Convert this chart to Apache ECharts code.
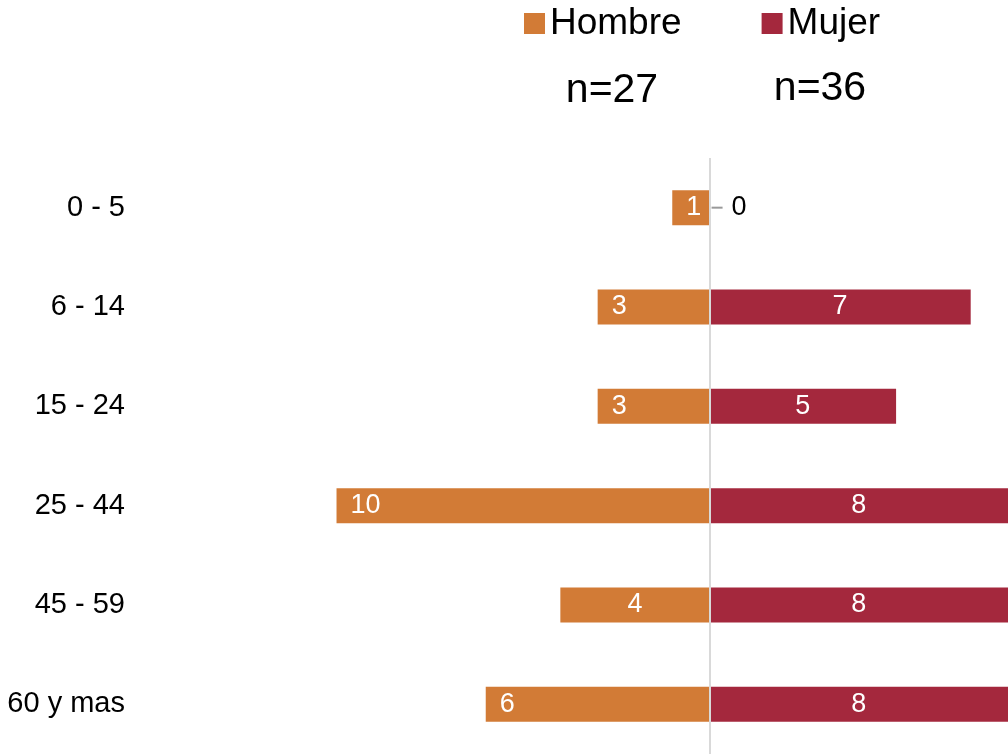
<!DOCTYPE html>
<html><head><meta charset="utf-8">
<script src="https://cdn.jsdelivr.net/npm/echarts@6/dist/echarts.min.js"></script>
<style>html,body{margin:0;padding:0;background:#fff}#c{width:1008px;height:754px}</style>
</head><body><div id="c"></div>
<script>
const categories = ['0 - 5','6 - 14','15 - 24','25 - 44','45 - 59','60 y mas'];
const hombre = [1,3,3,10,4,6];
const mujer = [0,7,5,8,8,8];
const nLabels = ['n=27','n=36'];

const FONT = '"Liberation Sans", Arial, sans-serif';
const orange = '#D27B36', red = '#A4283D';
const chart = echarts.init(document.getElementById('c'));
chart.setOption({
  animation:false,
  textStyle:{fontFamily:FONT},
  legend:{
    data:['Hombre','Mujer'], top:0, left:519, itemWidth:21, itemHeight:21, itemGap:80,
    icon:'rect', textStyle:{fontSize:37, color:'#000', fontFamily:FONT}
  },
  title:[
    {text:nLabels[0], left:607, top:65, textAlign:'center', textStyle:{fontSize:41, fontWeight:'normal', color:'#000', fontFamily:FONT}},
    {text:nLabels[1], left:815, top:63, textAlign:'center', textStyle:{fontSize:41, fontWeight:'normal', color:'#000', fontFamily:FONT}}
  ],
  grid:{left:150, right:0, top:158, bottom:-4, containLabel:false},
  xAxis:{type:'value', min:-15, max:8, show:false},
  yAxis:{type:'category', data:categories, inverse:true,
    axisLine:{show:false}, axisTick:{show:false},
    axisLabel:{fontSize:29, color:'#000', margin:25, fontFamily:FONT}},
  series:[
    {name:'Hombre', type:'bar', barWidth:35, barGap:'-100%',
     itemStyle:{color:orange},
     data:hombre.map((v,i)=>({value:-v, label: v===4?{position:'inside'}:{}})),
     label:{show:true, position:'insideLeft', distance:14, color:'#fff', fontSize:27, fontFamily:FONT,
       formatter:p=>Math.abs(p.value)},
     markLine:{silent:true, symbol:'none', label:{show:false},
       lineStyle:{color:'#d9d9d9', type:'solid', width:2}, data:[{xAxis:0}]}
    },
    {name:'Mujer', type:'bar', barWidth:35, barGap:'-100%',
     itemStyle:{color:red},
     data:mujer.map(v=>({value:v, label: v===0?{position:'right', distance:2, color:'#000', fontSize:27,
        formatter:p=>'{l|}{s|}'+p.value,
        rich:{l:{width:11, height:2, backgroundColor:'#999'}, s:{width:9, height:2}}}:{}})),
     label:{show:true, position:'inside', color:'#fff', fontSize:27, fontFamily:FONT}
    }
  ]
});
</script></body></html>
